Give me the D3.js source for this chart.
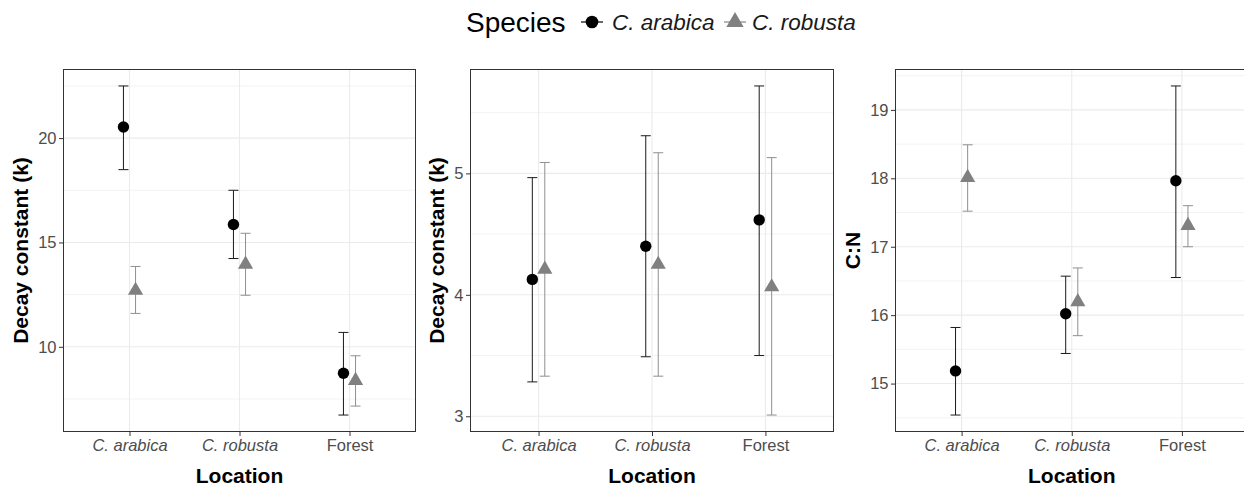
<html lang="en">
<head>
  <meta http-equiv="Content-Type" content="text/html; charset=utf-8" />
  <script src="https://d3js.org/d3.v7.min.js"></script>
  <style>
    body { margin: 0; background: #fff; }
    text { font-family: "Liberation Sans", Arial, sans-serif; }
  </style>
</head>
<body>
  <div id="chart"></div>
  <script>
    // ---- data ----
    const locations = ["C. arabica", "C. robusta", "Forest"];
    const species = ["C. arabica", "C. robusta"];

    // panel 1: decay constant
    const k1Arabica = [20.53, 15.86, 8.73];
    const k1ArabicaLo = [18.49, 14.23, 6.73];
    const k1ArabicaHi = [22.50, 17.50, 10.69];
    const k1Robusta = [12.70, 13.95, 8.38];
    const k1RobustaLo = [11.60, 12.47, 7.16];
    const k1RobustaHi = [13.85, 15.44, 9.57];
    const k1Ticks = [10, 15, 20];
    const k1Minor = [7.5, 12.5, 17.5, 22.5];

    // panel 2: decay constant
    const k2Arabica = [4.127, 4.40, 4.617];
    const k2ArabicaLo = [3.283, 3.49, 3.50];
    const k2ArabicaHi = [4.965, 5.31, 5.72];
    const k2Robusta = [4.21, 4.25, 4.065];
    const k2RobustaLo = [3.33, 3.33, 3.01];
    const k2RobustaHi = [5.09, 5.17, 5.13];
    const k2Ticks = [3, 4, 5];
    const k2Minor = [3.5, 4.5, 5.5];

    // panel 3: C:N
    const cnArabica = [15.185, 16.02, 17.965];
    const cnArabicaLo = [14.54, 15.44, 16.55];
    const cnArabicaHi = [15.82, 16.57, 19.35];
    const cnRobusta = [18.01, 16.195, 17.31];
    const cnRobustaLo = [17.52, 15.70, 17.00];
    const cnRobustaHi = [18.49, 16.69, 17.60];
    const cnTicks = [15, 16, 17, 18, 19];
    const cnMinor = [14.5, 15.5, 16.5, 17.5, 18.5, 19.5];

    const build = (mean, lo, hi) => locations.map((loc, i) => ({ loc, mean: mean[i], lo: lo[i], hi: hi[i] }));

    const panels = [
      {
        title: "Decay constant (k)", ticks: k1Ticks, minor: k1Minor,
        series: [build(k1Arabica, k1ArabicaLo, k1ArabicaHi), build(k1Robusta, k1RobustaLo, k1RobustaHi)],
        x0: 63.5, x1: 415.5, titleX: 28
      },
      {
        title: "Decay constant (k)", ticks: k2Ticks, minor: k2Minor,
        series: [build(k2Arabica, k2ArabicaLo, k2ArabicaHi), build(k2Robusta, k2RobustaLo, k2RobustaHi)],
        x0: 470.5, x1: 833.5, titleX: 444
      },
      {
        title: "C:N", ticks: cnTicks, minor: cnMinor,
        series: [build(cnArabica, cnArabicaLo, cnArabicaHi), build(cnRobusta, cnRobustaLo, cnRobustaHi)],
        x0: 895.5, x1: 1248, titleX: 860
      }
    ];

    // ---- layout / style ----
    const W = 1244, H = 489;
    const panelTop = 69.5, panelBottom = 431.5;
    const colors = ["#000000", "#808080"];
    const barColors = ["#1a1a1a", "#8f8f8f"];
    const grid = "#EBEBEB";
    const tickColor = "#4D4D4D";
    const dodge = 0.055;   // in units of category step
    const capHalf = 5;

    const svg = d3.select("#chart").append("svg")
      .attr("width", W).attr("height", H);

    const triangle = d3.symbol().type(d3.symbolTriangle).size(100);

    panels.forEach(p => {
      const all = p.series.flat();
      const lo = d3.min(all, d => d.lo), hi = d3.max(all, d => d.hi);
      const pad = (hi - lo) * 0.05;
      const y = d3.scaleLinear().domain([lo - pad, hi + pad]).range([panelBottom, panelTop]);
      const x = d3.scalePoint().domain(locations).range([p.x0, p.x1]).padding(0.6);
      const step = x.step();

      const g = svg.append("g");

      // clip panel contents
      const clipId = "clip" + Math.round(p.x0);
      svg.append("clipPath").attr("id", clipId)
        .append("rect").attr("x", p.x0).attr("y", panelTop).attr("width", p.x1 - p.x0).attr("height", panelBottom - panelTop);
      const inner = g.append("g").attr("clip-path", `url(#${clipId})`);

      // minor grid
      inner.selectAll(".minor").data(p.minor).join("line")
        .attr("x1", p.x0).attr("x2", p.x1)
        .attr("y1", d => y(d)).attr("y2", d => y(d))
        .attr("stroke", grid).attr("stroke-width", 0.6);
      // major grid
      inner.selectAll(".majory").data(p.ticks).join("line")
        .attr("x1", p.x0).attr("x2", p.x1)
        .attr("y1", d => y(d)).attr("y2", d => y(d))
        .attr("stroke", grid).attr("stroke-width", 1.1);
      inner.selectAll(".majorx").data(locations).join("line")
        .attr("x1", d => x(d)).attr("x2", d => x(d))
        .attr("y1", panelTop).attr("y2", panelBottom)
        .attr("stroke", grid).attr("stroke-width", 1.1);

      // error bars + points
      p.series.forEach((s, si) => {
        const off = (si === 0 ? -1 : 1) * dodge * step;
        const eb = inner.append("g").attr("stroke", barColors[si]).attr("stroke-width", 1).attr("fill", "none");
        s.forEach(d => {
          const cx = x(d.loc) + off;
          eb.append("line").attr("x1", cx).attr("x2", cx).attr("y1", y(d.lo)).attr("y2", y(d.hi));
          eb.append("line").attr("x1", cx - capHalf).attr("x2", cx + capHalf).attr("y1", y(d.lo)).attr("y2", y(d.lo));
          eb.append("line").attr("x1", cx - capHalf).attr("x2", cx + capHalf).attr("y1", y(d.hi)).attr("y2", y(d.hi));
        });
        if (si === 0) {
          inner.append("g").selectAll("circle").data(s).join("circle")
            .attr("cx", d => x(d.loc) + off).attr("cy", d => y(d.mean))
            .attr("r", 5.7).attr("fill", colors[0]);
        } else {
          inner.append("g").selectAll("path").data(s).join("path")
            .attr("d", triangle)
            .attr("transform", d => `translate(${x(d.loc) + off},${y(d.mean)})`)
            .attr("fill", colors[1]);
        }
      });

      // border
      g.append("rect").attr("x", p.x0).attr("y", panelTop)
        .attr("width", p.x1 - p.x0).attr("height", panelBottom - panelTop)
        .attr("fill", "none").attr("stroke", "#333333").attr("stroke-width", 1);

      // y axis
      const ya = g.append("g").attr("transform", `translate(${p.x0},0)`)
        .call(d3.axisLeft(y).tickValues(p.ticks).tickSize(4.5).tickPadding(2.5).tickFormat(d3.format("d")));
      ya.select(".domain").remove();
      ya.selectAll("line").attr("stroke", "#333333");
      ya.selectAll("text").attr("fill", tickColor).attr("font-size", 16.5)
        .attr("font-family", "Liberation Sans, Arial, sans-serif");

      // x axis
      const xa = g.append("g").attr("transform", `translate(0,${panelBottom})`)
        .call(d3.axisBottom(x).tickSize(4.5).tickPadding(3.5));
      xa.select(".domain").remove();
      xa.selectAll("line").attr("stroke", "#333333");
      xa.selectAll("text").attr("fill", tickColor).attr("font-size", 16.5)
        .attr("font-family", "Liberation Sans, Arial, sans-serif")
        .attr("font-style", d => d === "Forest" ? "normal" : "italic");

      // axis titles
      g.append("text").attr("x", (p.x0 + Math.min(p.x1, 1248)) / 2).attr("y", 483)
        .attr("text-anchor", "middle").attr("font-weight", "bold").attr("font-size", 21)
        .text("Location");
      g.append("text")
        .attr("transform", `translate(${p.titleX},${(panelTop + panelBottom) / 2}) rotate(-90)`)
        .attr("text-anchor", "middle").attr("font-weight", "bold").attr("font-size", 21)
        .text(p.title);
    });

    // ---- legend ----
    const lg = svg.append("g");
    lg.append("text").attr("x", 466).attr("y", 32).attr("font-size", 28).text("Species");
    const keyX = [592, 735];
    const labelX = [612, 752];
    species.forEach((s, i) => {
      lg.append("line").attr("x1", keyX[i] - 11).attr("x2", keyX[i] + 11)
        .attr("y1", 22).attr("y2", 22).attr("stroke", barColors[i]).attr("stroke-width", 1.3);
      if (i === 0) {
        lg.append("circle").attr("cx", keyX[i]).attr("cy", 22).attr("r", 6.3).attr("fill", colors[0]);
      } else {
        lg.append("path").attr("d", d3.symbol().type(d3.symbolTriangle).size(130)())
          .attr("transform", `translate(${keyX[i]},22)`).attr("fill", colors[1]);
      }
      lg.append("text").attr("x", labelX[i]).attr("y", 30).attr("font-size", 22.5)
        .attr("font-style", "italic").attr("fill", "#1a1a1a").text(s);
    });
  </script>
</body>
</html>
